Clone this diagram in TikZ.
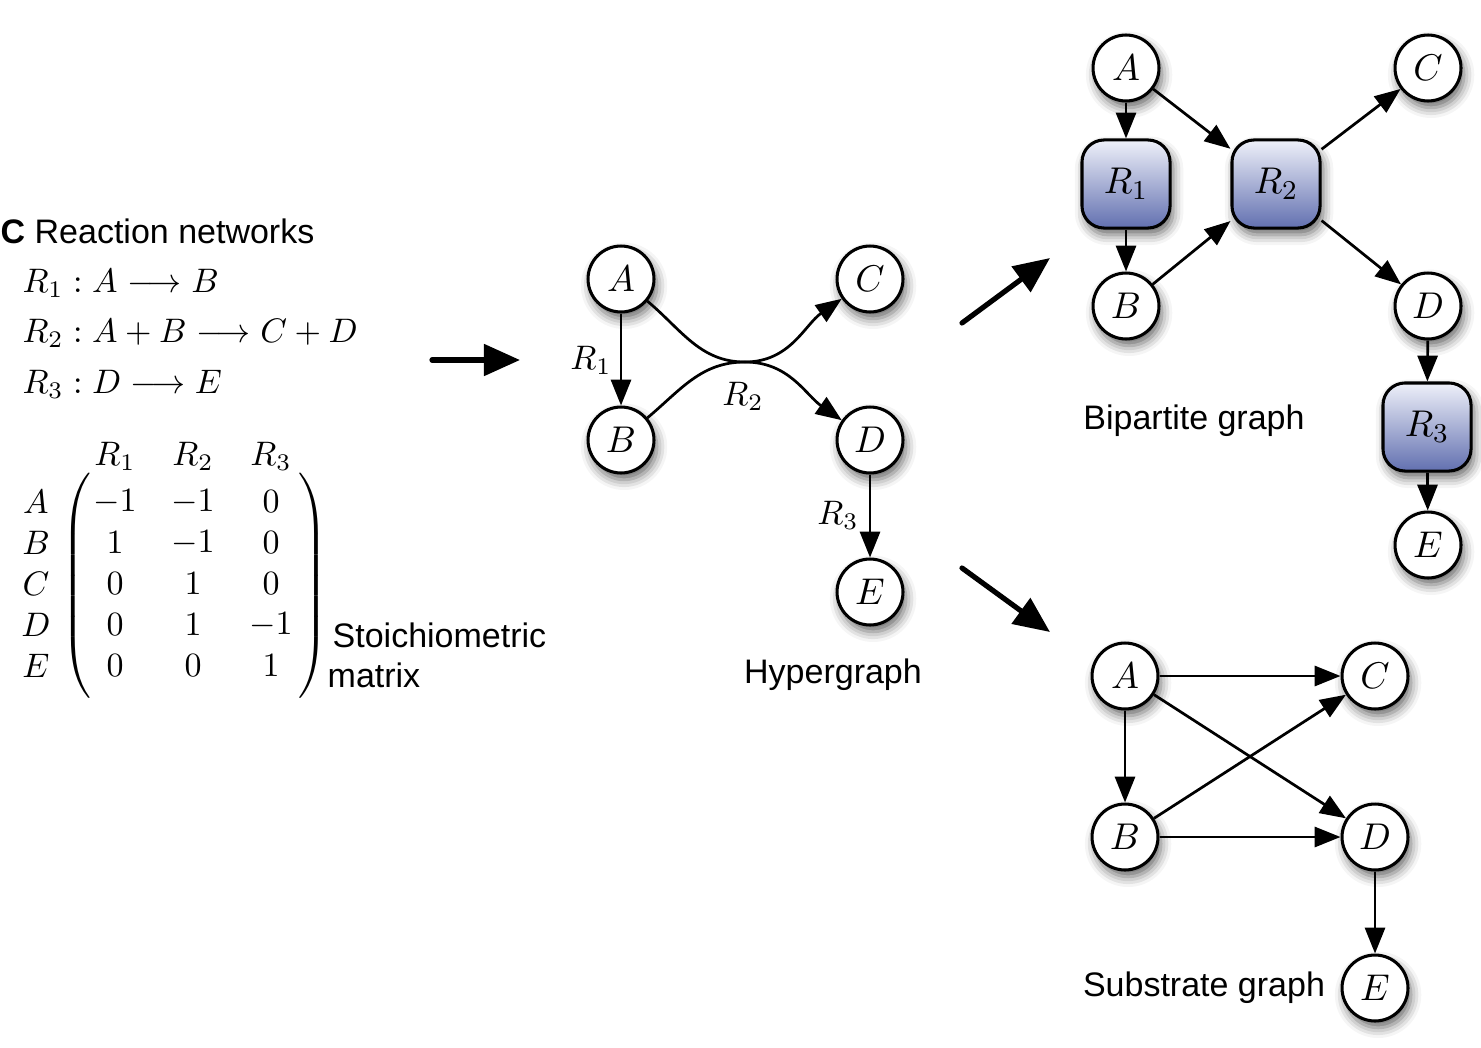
\documentclass[tikz,border=0pt]{standalone}
\usepackage{fontspec}
\setsansfont{Liberation Sans}
\usetikzlibrary{arrows.meta,positioning,shadows.blur}

\definecolor{rxtop}{RGB}{238,240,249}
\definecolor{rxbot}{RGB}{98,112,176}

\tikzset{
  species/.style={circle, draw, line width=0.9pt, fill=white, minimum size=19.4pt, inner sep=0pt,
    font=\fontsize{10.95}{13}\selectfont,
    blur shadow={shadow xshift=0.9pt, shadow yshift=-2pt, shadow blur radius=3pt, shadow opacity=60}},
  reaction/.style={rectangle, draw, line width=0.9pt, rounded corners=6.5pt, minimum size=25.9pt, inner sep=0pt,
    top color=rxtop, bottom color=rxbot, font=\fontsize{10.95}{13}\selectfont,
    blur shadow={shadow xshift=0.9pt, shadow yshift=-2pt, shadow blur radius=3pt, shadow opacity=60}},
  link/.style={line width=0.8pt, -{Triangle[length=7.6pt,width=5.9pt]}},
  bigarrow/.style={line width=1.53pt, line cap=round, -{Triangle[length=10.6pt,width=9.1pt]}},
  caption/.style={font=\sffamily\fontsize{10}{12}\selectfont},
}

\begin{document}
\begin{tikzpicture}[x=0.2941pt, y=-0.2941pt, font=\fontsize{10}{12}\selectfont]
\useasboundingbox (0,0) rectangle (1481,1047);

% Reactions and stoichiometric matrix
\node[caption, anchor=west, inner sep=0pt] (title) at (0,231) {\textbf{C} Reaction networks};
\node[anchor=west, inner sep=0pt] (eq1) at (22,283) {$R_1 : A \longrightarrow B$};
\node[anchor=west, inner sep=0pt] (eq2) at (22,333) {$R_2 : A + B \longrightarrow C + D$};
\node[anchor=west, inner sep=0pt] (eq3) at (22,384) {$R_3 : D \longrightarrow E$};

\foreach \j/\x in {1/115, 2/193, 3/271}
  \node (col\j) at (\x,456) {$R_\j$};
\foreach \s [count=\i] in {A,B,C,D,E}
  \node (row\s) at (36,{461+41*\i}) {$\s$};
\foreach \a/\b/\c [count=\i] in {-1/-1/0, 1/-1/0, 0/1/0, 0/1/-1, 0/0/1} {
  \node (m\i a) at (115,{461+41*\i}) {$\a$};
  \node (m\i b) at (193,{461+41*\i}) {$\b$};
  \node (m\i c) at (271,{461+41*\i}) {$\c$};
}
\node[inner sep=0pt] (lpar) at (78,586) {$\left(\vrule height 30.6pt depth 30.6pt width 0pt\right.$};
\node[inner sep=0pt] (rpar) at (311,586) {$\left.\vrule height 30.6pt depth 30.6pt width 0pt\right)$};
\node[caption, anchor=west, inner sep=0pt] (stoich) at (332,635) {Stoichiometric};
\node[caption, anchor=west, inner sep=0pt] (matr) at (327,675) {matrix};

\coordinate (a1s) at (432,360);
\coordinate (a1e) at (520,360);
\draw[bigarrow] (a1s) -- (a1e);

% Hypergraph
\node[species] (hA) at (621,279) {$A$};
\node[species] (hB) at (621,440) {$B$};
\node[species] (hC) at (870,279) {$C$};
\node[species] (hD) at (870,440) {$D$};
\node[species] (hE) at (870,592) {$E$};
\coordinate (hub) at (745,362);
\draw[link] (hA) -- (hB);
\draw[line width=0.8pt] (hA) to[out=-40, in=180] (hub);
\draw[link] (hub) to[out=0, in=145] (hD);
\draw[line width=0.8pt] (hB) to[out=40, in=180] (hub);
\draw[link] (hub) to[out=0, in=-145] (hC);
\draw[link] (hD) -- (hE);
\node (lR1) at (591,360) {$R_1$};
\node (lR2) at (743,396) {$R_2$};
\node (lR3) at (838,515) {$R_3$};
\node[caption] (hyper) at (833,675) {Hypergraph};

\coordinate (a2s) at (962,323);
\coordinate (a2e) at (1050,258);
\draw[bigarrow] (a2s) -- (a2e);
\coordinate (a3s) at (962,568);
\coordinate (a3e) at (1050,632);
\draw[bigarrow] (a3s) -- (a3e);

% Bipartite graph
\node[species] (bA) at (1126,68) {$A$};
\node[species] (bB) at (1126,306) {$B$};
\node[species] (bC) at (1428,68) {$C$};
\node[species] (bD) at (1428,306) {$D$};
\node[species] (bE) at (1428,545) {$E$};
\node[reaction] (bR1) at (1126,184) {$R_1$};
\node[reaction] (bR2) at (1276,184) {$R_2$};
\node[reaction] (bR3) at (1427,427) {$R_3$};
\draw[link] (bA) -- (bR1);
\draw[link] (bR1) -- (bB);
\draw[link] (bA) -- (bR2);
\draw[link] (bB) -- (bR2);
\draw[link] (bR2) -- (bC);
\draw[link] (bR2) -- (bD);
\draw[link] (bD) -- (bR3);
\draw[link] (bR3) -- (bE);
\node[caption] (bipart) at (1194,421) {Bipartite graph};

% Substrate graph
\node[species] (sA) at (1125,676) {$A$};
\node[species] (sB) at (1125,837) {$B$};
\node[species] (sC) at (1375,676) {$C$};
\node[species] (sD) at (1375,837) {$D$};
\node[species] (sE) at (1375,988) {$E$};
\draw[link] (sA) -- (sC);
\draw[link] (sA) -- (sB);
\draw[link] (sA) -- (sD);
\draw[link] (sB) -- (sC);
\draw[link] (sB) -- (sD);
\draw[link] (sD) -- (sE);
\node[caption] (subst) at (1204,988) {Substrate graph};
\end{tikzpicture}
\end{document}
